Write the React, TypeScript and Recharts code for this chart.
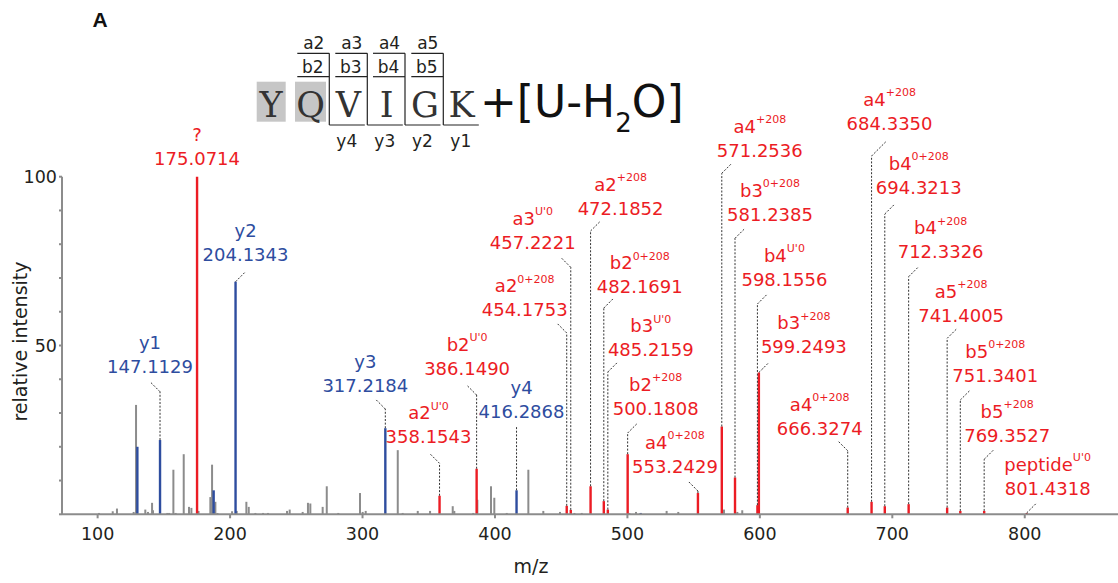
import React from "react";
import { ScatterChart, Scatter, XAxis, YAxis, ErrorBar } from "recharts";

const RED = "#ec1c24";
const BLUE = "#2e4d9f";
const GREY = "#8c8c8c";
const INK = "#231f20";
const FONT = "'DejaVu Sans', sans-serif";

const xTicks = [100, 200, 300, 400, 500, 600, 700, 800];
const yTicks = [0, 10, 20, 30, 40, 50, 60, 70, 80, 90, 100];
const yTickLabels = [50, 100];

// unassigned peaks: [m/z, relative intensity]
const otherPeaks: [number, number][] = [
  [101.0, 0.4], [111.4, 0.9], [114.6, 1.7], [127.2, 0.7], [129.0, 32.4], [136.0, 1.4],
  [138.0, 0.7], [141.1, 3.4], [141.8, 1.2], [152.6, 0.4], [154.0, 0.4], [157.2, 13.2],
  [158.9, 0.4], [165.0, 17.8], [169.0, 2.2], [170.8, 1.9], [176.2, 1.0], [185.1, 5.1],
  [186.4, 14.7], [188.9, 3.7], [190.5, 0.4], [201.5, 0.9], [205.0, 1.0], [212.3, 3.7],
  [214.1, 2.2], [219.1, 0.4], [224.9, 0.4], [228.6, 0.4], [243.0, 1.0], [245.0, 1.4],
  [254.8, 0.7], [258.8, 3.4], [260.6, 3.2], [269.9, 2.2], [273.0, 8.3], [281.7, 0.4],
  [298.1, 6.3], [300.1, 0.7], [302.4, 1.0], [326.6, 19.0], [330.3, 0.4], [341.7, 1.0],
  [351.0, 1.0], [368.1, 2.4], [369.3, 1.0], [383.6, 0.4], [386.7, 4.3], [397.0, 8.3],
  [399.5, 4.9], [408.9, 0.4], [425.2, 13.2], [436.5, 1.0], [449.1, 0.7], [460.0, 0.4],
  [465.5, 0.4], [501.5, 0.4], [506.5, 0.7], [529.6, 1.0], [538.4, 0.7], [572.9, 1.4],
  [583.0, 0.7], [586.7, 1.2],
];

// y ions (blue)
const yIonPeaks: [number, number][] = [
  [130.0, 20.0], [147.1129, 22.0], [187.6, 7.1], [204.1343, 68.9], [317.2184, 25.5],
  [416.2868, 7.1], [510.0, 0.4],
];

// modified / other assigned ions (red)
const modPeaks: [number, number][] = [
  [175.0714, 100], [358.1543, 5.5], [386.149, 13.5], [454.1753, 2.5], [457.2221, 1.3],
  [472.1852, 8.3], [482.1691, 3.9], [485.2159, 1.4], [500.1808, 17.8], [553.2429, 6.3],
  [571.2536, 26.0], [581.2385, 10.9], [598.1556, 2.7], [599.2493, 42.0], [666.3274, 2.0],
  [684.335, 3.7], [694.3213, 2.4], [712.3326, 3.0], [741.4005, 2.0], [751.3401, 1.0],
  [769.3527, 1.0], [801.4318, 0.4],
];

// [mass, ion, superscript]
const ionNames: [string, string, string][] = [
  ["175.0714", "?", ""],
  ["204.1343", "y2", ""],
  ["147.1129", "y1", ""],
  ["317.2184", "y3", ""],
  ["358.1543", "a2", "U'0"],
  ["386.1490", "b2", "U'0"],
  ["416.2868", "y4", ""],
  ["454.1753", "a2", "0+208"],
  ["457.2221", "a3", "U'0"],
  ["472.1852", "a2", "+208"],
  ["482.1691", "b2", "0+208"],
  ["485.2159", "b3", "U'0"],
  ["500.1808", "b2", "+208"],
  ["553.2429", "a4", "0+208"],
  ["571.2536", "a4", "+208"],
  ["581.2385", "b3", "0+208"],
  ["598.1556", "b4", "U'0"],
  ["599.2493", "b3", "+208"],
  ["666.3274", "a4", "0+208"],
  ["684.3350", "a4", "+208"],
  ["694.3213", "b4", "0+208"],
  ["712.3326", "b4", "+208"],
  ["741.4005", "a5", "+208"],
  ["751.3401", "b5", "0+208"],
  ["769.3527", "b5", "+208"],
  ["801.4318", "peptide", "U'0"],
];

// label placement in px relative to peak top: [dx, leader rise, text rise, diagonal dir, diagonal len]
const labelLayout: Record<string, number[]> = {
  "175.0714": [0, 0, 18.4, 0],
  "204.1343": [10, 0, 26.7, 1],
  "147.1129": [-10, 48.3, 74, -1],
  "317.2184": [-20, 19.2, 42.7, -1],
  "358.1543": [-11, 32.4, 59, -1],
  "386.1490": [-9.5, 73.7, 100.7, -1],
  "416.2868": [5, 63.3, 78.6, 0],
  "454.1753": [-42, 172.9, 195.9, -1],
  "457.2221": [-38, 242.6, 267.9, -1],
  "472.1852": [30, 255.3, 278, 1],
  "482.1691": [36, 193.1, 214.4, 1],
  "485.2159": [43, 137.6, 159.6, 1],
  "500.1808": [28, 21.2, 46.2, 1],
  "553.2429": [-23, 2, 27, -1],
  "571.2536": [38, 253.2, 276.5, 1],
  "581.2385": [35, 239.2, 263.5, 1],
  "598.1556": [27, 201.2, 225.9, 1],
  "599.2493": [45, 0, 25.8, 1],
  "666.3274": [-28, 56.8, 79.2, -1],
  "684.3350": [18, 345.8, 378.5, 1, 14.5],
  "694.3213": [34, 292.2, 318.9, 1],
  "712.3326": [32, 227.5, 252.5, 1],
  "741.4005": [14, 169.2, 192.5, 1],
  "751.3401": [35, 110.9, 135.9, 1],
  "769.3527": [23, 51.6, 75.9, 1],
  "801.4318": [21, 0, 24.7, 1],
};

const toRows = (peaks: [number, number][]) =>
  peaks.map(([mz, rel]) => ({ mz, rel, err: [rel, 0], key: mz.toFixed(4) }));

const ionMap: Record<string, [string, string]> = {};
ionNames.forEach(([m, ion, sup]) => (ionMap[m] = [ion, sup]));

const makeShape = (color: string) => (props: any) => {
  const { cx, cy, payload } = props;
  const key = payload?.key;
  const ion = ionMap[key];
  const lay = labelLayout[key];
  if (!ion || !lay) return <g />;
  const [dx, rise, textRise, dir, len = 9.5] = lay;
  const kneeY = cy - rise;
  const endX = cx + dir * len;
  const endY = dir ? kneeY - len : kneeY;
  const tx = cx + dx;
  const ty = cy - textRise;
  const dash = { stroke: "#333", strokeWidth: 1, strokeDasharray: "2 1.6", fill: "none" };
  return (
    <g>
      {rise > 0 && <line x1={cx} y1={cy} x2={cx} y2={kneeY} {...dash} />}
      {dir !== 0 && <line x1={cx} y1={kneeY} x2={endX} y2={endY} {...dash} />}
      <text x={tx} y={ty} textAnchor="middle" dominantBaseline="central" fontSize={18} fontFamily={FONT} fill={color}>
        {key}
      </text>
      <text x={tx} y={ty - 24} textAnchor="middle" dominantBaseline="central" fontSize={18} fontFamily={FONT} fill={color}>
        {ion[0]}
        {ion[1] && (
          <tspan fontSize={11} dy={-7}>
            {ion[1]}
          </tspan>
        )}
      </text>
    </g>
  );
};

const series = [
  { name: "other", rows: toRows(otherPeaks), color: GREY, w: 2 },
  { name: "y ions", rows: toRows(yIonPeaks), color: BLUE, w: 2.4 },
  { name: "modified", rows: toRows(modPeaks), color: RED, w: 2.4 },
];

// peptide header
const residues = ["Y", "Q", "V", "I", "G", "K"];
const residueX = [271, 310.7, 348.3, 386.7, 425, 461.7];
const cuts = [329.3, 367.3, 405, 443.3];
const aLabels = ["a2", "a3", "a4", "a5"];
const bLabels = ["b2", "b3", "b4", "b5"];
const yLabels = ["y4", "y3", "y2", "y1"];

function Header() {
  const ln = { stroke: "#222", strokeWidth: 1.2 };
  const lab = { fontSize: 17, fontFamily: FONT, fill: INK, textAnchor: "middle" as const, dominantBaseline: "central" as const };
  return (
    <svg width={1118} height={583} style={{ position: "absolute", left: 0, top: 0, pointerEvents: "none" }}>
      <text x={100} y={27} textAnchor="middle" fontSize={21} fontWeight="bold" fontFamily="'Liberation Sans', Arial, sans-serif" fill="#111">
        A
      </text>
      <rect x={256.7} y={81.7} width={29} height={40} fill="#c6c6c6" />
      <rect x={295} y={81.7} width={31} height={40} fill="#c6c6c6" />
      {residues.map((r, i) => (
        <text key={r} x={residueX[i]} y={116.7} textAnchor="middle" fontSize={35} fontFamily="'DejaVu Serif', serif" fill="#333">
          {r}
        </text>
      ))}
      {cuts.map((c, i) => (
        <g key={c}>
          <line x1={c - 32} y1={53.3} x2={c} y2={53.3} {...ln} />
          <line x1={c - 32} y1={76.7} x2={c} y2={76.7} {...ln} />
          <line x1={c} y1={53.3} x2={c} y2={125} {...ln} />
          <line x1={c} y1={125} x2={c + 35.5} y2={125} {...ln} />
          <text x={c - 15.5} y={43.3} {...lab}>{aLabels[i]}</text>
          <text x={c - 16.5} y={66.7} {...lab}>{bLabels[i]}</text>
          <text x={c + 17.5} y={141} {...lab}>{yLabels[i]}</text>
        </g>
      ))}
      <text x={480} y={116.7} fontSize={44} fontFamily={FONT} fill="#111">
        +[U-H
        <tspan fontSize={26} dy={15}>2</tspan>
        <tspan dy={-15}>O]</tspan>
      </text>
    </svg>
  );
}

export default function App() {
  return (
    <div style={{ position: "absolute", left: 0, top: 0, width: 1118, height: 583, background: "#fff" }}>
      <ScatterChart width={1118} height={583} margin={{ top: 176.7, right: 0, bottom: 38.7, left: 0 }}>
        <XAxis
          type="number"
          dataKey="mz"
          domain={[73.1, 870.4]}
          allowDataOverflow
          ticks={xTicks}
          height={30}
          tickSize={4}
          tickMargin={9}
          stroke={GREY}
          strokeWidth={2}
          tick={{ fill: INK, fontSize: 17.5, fontFamily: FONT }}
          label={{ value: "m/z", position: "bottom", offset: 15, dx: -59, fill: INK, fontSize: 19, fontFamily: FONT }}
        />
        <YAxis
          type="number"
          dataKey="rel"
          domain={[0, 100]}
          ticks={yTicks}
          width={62}
          tickSize={3}
          tickMargin={2}
          stroke={GREY}
          strokeWidth={2}
          tick={{ fill: INK, fontSize: 17.5, fontFamily: FONT }}
          tickFormatter={(v: number) => (yTickLabels.includes(v) ? String(v) : "")}
          label={{ value: "relative intensity", angle: -90, position: "center", dx: -11, dy: -4, fill: INK, fontSize: 19, fontFamily: FONT }}
        />
        {series.map((s) => (
          <Scatter key={s.name} name={s.name} data={s.rows} shape={makeShape(s.color)} isAnimationActive={false}>
            <ErrorBar dataKey="err" direction="y" width={0} stroke={s.color} strokeWidth={s.w} isAnimationActive={false} />
          </Scatter>
        ))}
      </ScatterChart>
      <Header />
    </div>
  );
}
